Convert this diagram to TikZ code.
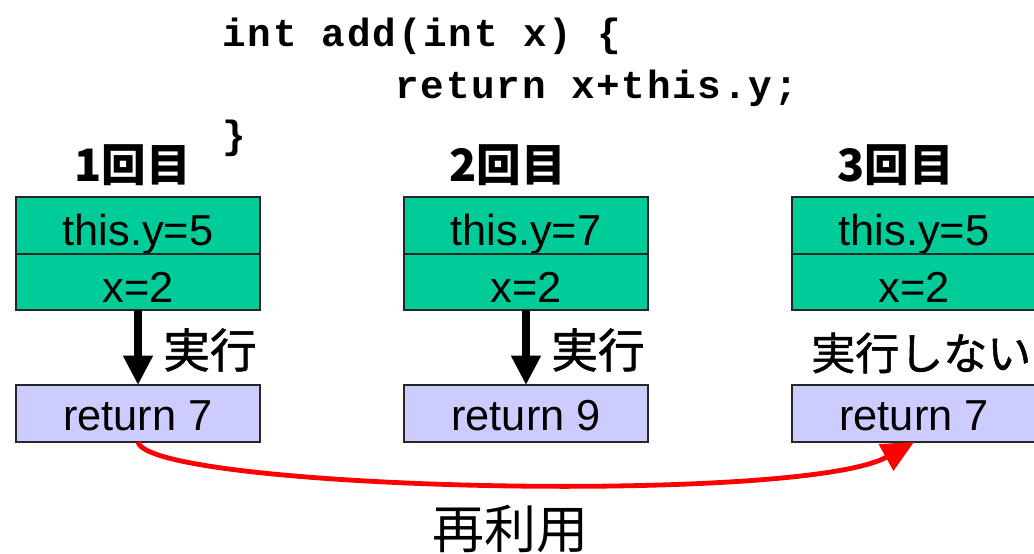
\documentclass[tikz,border=0pt]{standalone}
\usepackage{fontspec}
\setmainfont{Liberation Sans}
\newfontfamily\cjk{Noto Sans CJK JP}
\newfontfamily\cjkm[FakeBold=1.2]{Noto Sans CJK JP}
\newfontfamily\code[LetterSpace=4.5]{Liberation Mono}
\usetikzlibrary{arrows.meta}
\definecolor{cellgreen}{RGB}{0,204,153}
\definecolor{retblue}{RGB}{204,204,255}
\tikzset{
  cell/.style={draw=black!85, line width=1.3pt, minimum width=244*0.75pt, minimum height=56.5*0.75pt,
    inner sep=0pt, outer sep=0pt, font=\fontsize{32.5}{32.5}\selectfont},
  var/.style={cell, fill=cellgreen, text height=30pt, text depth=0pt},
  ret/.style={cell, fill=retblue, minimum height=57*0.75pt, text height=26pt, text depth=0pt},
  codeline/.style={anchor=base west, inner sep=0pt, font=\code\bfseries\fontsize{29.5}{29.5}\selectfont},
  title/.style={anchor=west, inner sep=0pt, font=\cjk\bfseries\fontsize{33.5}{33.5}\selectfont},
  runlabel/.style={anchor=west, inner sep=0pt, font=\cjkm\fontsize{35}{35}\selectfont},
  execarrow/.style={-{Triangle[length=22pt,width=21pt]}, line width=6pt, black},
  reusearrow/.style={-{Triangle[length=24pt,width=22pt]}, line width=3.6pt, red}
}
\begin{document}
\begin{tikzpicture}[x=0.75pt, y=-0.75pt]
\useasboundingbox (0,0) rectangle (1034,553);
\clip (0,0) rectangle (1034,553);

% source of the method
\node[codeline] (c1) at (222,46) {int add(int x) \{};
\node[codeline] (c2) at (395,98) {return x+this.y;};
\node[codeline] (c3) at (222,148) {\}};

% call headings
\node[title] (t1) at (74,165) {1回目};
\node[title] (t2) at (449,165) {2回目};
\node[title] (t3) at (837,165) {3回目};

% first call
\node[var] (y1) at (138,225.5) {this.y=5};
\node[var] (x1) at (138,282) {x=2};
\node[ret] (r1) at (138,413.5) {return 7};
% second call
\node[var] (y2) at (526,225.5) {this.y=7};
\node[var] (x2) at (526,282) {x=2};
\node[ret] (r2) at (526,413.5) {return 9};
% third call
\node[var] (y3) at (914,225.5) {this.y=5};
\node[var] (x3) at (914,282) {x=2};
\node[ret] (r3) at (914,413.5) {return 7};

% execution arrows
\draw[execarrow] (x1.south) -- (r1.north);
\draw[execarrow] (x2.south) -- (r2.north);
\node[runlabel] (e1) at (163,350) {実行};
\node[runlabel] (e2) at (551,350) {実行};
\node[runlabel, font=\cjkm\fontsize{33}{33}\selectfont] (e3) at (811,353) {実行しない};

% reuse of the cached result
\draw[reusearrow] (r1.south) .. controls (150,490) and (800,505) .. (r3.south);
\node[inner sep=0pt, font=\cjk\fontsize{39}{39}\selectfont] (reuse) at (510,529) {再利用};
\end{tikzpicture}
\end{document}
